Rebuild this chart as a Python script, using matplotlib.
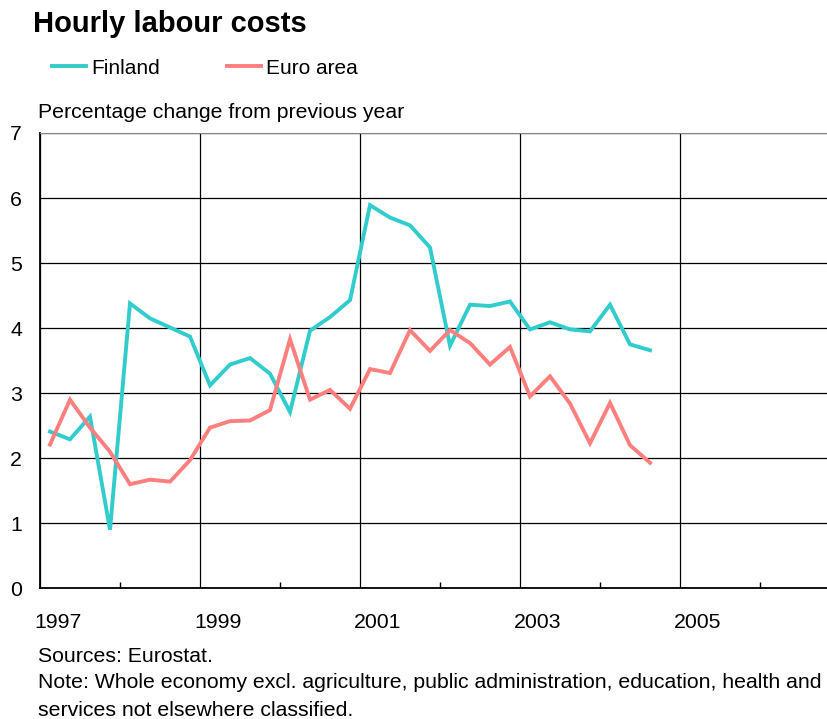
import numpy as np
import matplotlib
matplotlib.use("Agg")
from matplotlib import pyplot as plt
from matplotlib.ticker import MultipleLocator
from matplotlib.transforms import ScaledTranslation

plt.rcParams['font.family'] = ['Liberation Sans', 'DejaVu Sans']

# quarterly observations, 1997Q1 - 2004Q3
start_year = 1997
finland = [2.41, 2.29, 2.64, 0.90, 4.38, 4.15, 4.01, 3.87,
           3.12, 3.44, 3.54, 3.30, 2.71, 3.96, 4.17, 4.43,
           5.89, 5.70, 5.58, 5.24, 3.73, 4.36, 4.34, 4.41,
           3.98, 4.09, 3.98, 3.95, 4.36, 3.75, 3.66]
euro_area = [2.21, 2.90, 2.47, 2.10, 1.60, 1.67, 1.64, 1.97,
             2.47, 2.57, 2.58, 2.74, 3.83, 2.90, 3.05, 2.76,
             3.37, 3.31, 3.97, 3.65, 3.97, 3.77, 3.44, 3.71,
             2.95, 3.26, 2.84, 2.23, 2.85, 2.20, 1.93]
year_labels = ['1997', '1999', '2001', '2003', '2005']

t = start_year + 0.125 + 0.25 * np.arange(len(finland))

fig = plt.figure(figsize=(8.27, 7.19), dpi=100)
ax = fig.add_axes([40 / 827, (719 - 588.3) / 719, 800 / 827, 455.3 / 719])

ax.plot(t, finland, color='#33CCCC', lw=2.8, solid_joinstyle='miter', label='Finland')
ax.plot(t, euro_area, color='#FF7F7F', lw=2.8, solid_joinstyle='miter', label='Euro area')

ax.set_xlim(1997, 2007)
ax.set_ylim(0, 7)
ax.set_xticks([int(y) for y in year_labels])
ax.set_xticklabels(year_labels, ha='left')
ax.xaxis.set_minor_locator(MultipleLocator(1))
ax.yaxis.set_major_locator(MultipleLocator(1))

ax.grid(True, which='major', color='black', lw=0.9)
ax.set_axisbelow(True)
for s in ['left', 'bottom']:
    ax.spines[s].set_linewidth(1.3)
ax.spines['top'].set_color('#888888')
ax.spines['right'].set_visible(False)

ax.tick_params(axis='y', length=0, pad=13, labelsize=15.3)
ax.tick_params(axis='x', which='major', length=0, pad=18, labelsize=15.3)
ax.tick_params(axis='x', which='minor', direction='in', length=4, width=1)
# year labels start just left of their gridline
shift = ScaledTranslation(-6 / 100, 0, fig.dpi_scale_trans)
for lbl in ax.get_xticklabels():
    lbl.set_transform(lbl.get_transform() + shift)

fig.text(33 / 827, 1 - 24 / 719, 'Hourly labour costs', fontsize=21,
         fontweight='bold', va='center', ha='left')
fig.text(38 / 827, 1 - 112 / 719, 'Percentage change from previous year',
         fontsize=15.3, va='center', ha='left')

fig.legend(loc='center left', bbox_to_anchor=(52 / 827, 1 - 68 / 719), ncol=2,
           frameon=False, fontsize=15, handlelength=1.63, handletextpad=0.25,
           columnspacing=3.2, borderaxespad=0, borderpad=0)

notes = ['Sources: Eurostat.',
         'Note: Whole economy excl. agriculture, public administration, education, health and',
         'services not elsewhere classified.']
for i, line in enumerate(notes):
    fig.text(38 / 827, 1 - (656 + i * 27) / 719, line, fontsize=15.3,
             va='center', ha='left')

fig.savefig('out.png', dpi=100)
